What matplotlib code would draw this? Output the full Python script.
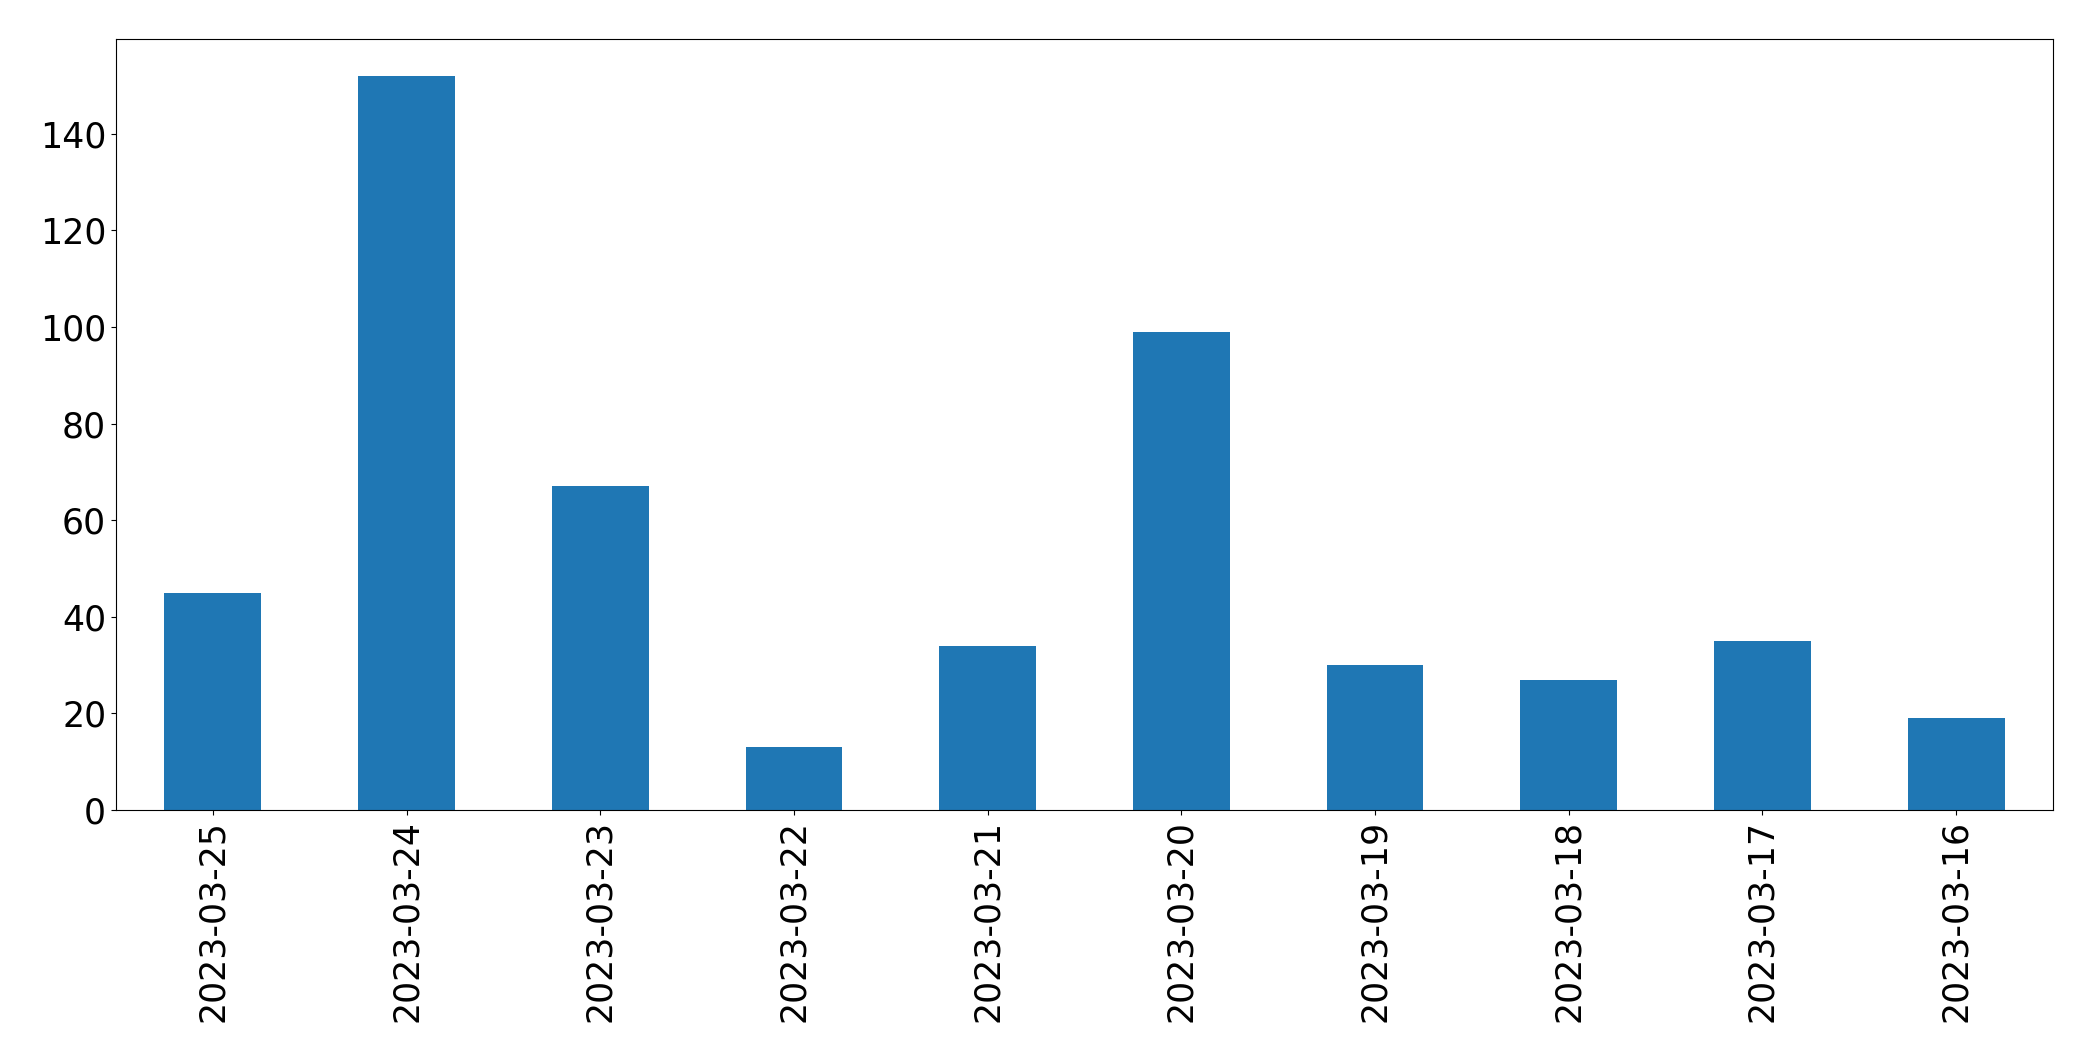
import pandas as pd
import matplotlib.pyplot as plt

# daily counts, newest first
dates = ['2023-03-25', '2023-03-24', '2023-03-23', '2023-03-22', '2023-03-21',
         '2023-03-20', '2023-03-19', '2023-03-18', '2023-03-17', '2023-03-16']
counts = [45, 152, 67, 13, 34, 99, 30, 27, 35, 19]

s = pd.Series(counts, index=dates)

plt.rcParams['font.size'] = 25

fig = plt.figure(figsize=(20.93, 10.61), dpi=100)
ax = fig.add_subplot(111)
s.plot(kind='bar', ax=ax, color='#1f77b4')
ax.set_xlabel('')
plt.xticks(rotation=90)
fig.subplots_adjust(left=0.0554, right=0.9809, top=0.9632, bottom=0.2366)
plt.savefig('out.png', dpi=100)
